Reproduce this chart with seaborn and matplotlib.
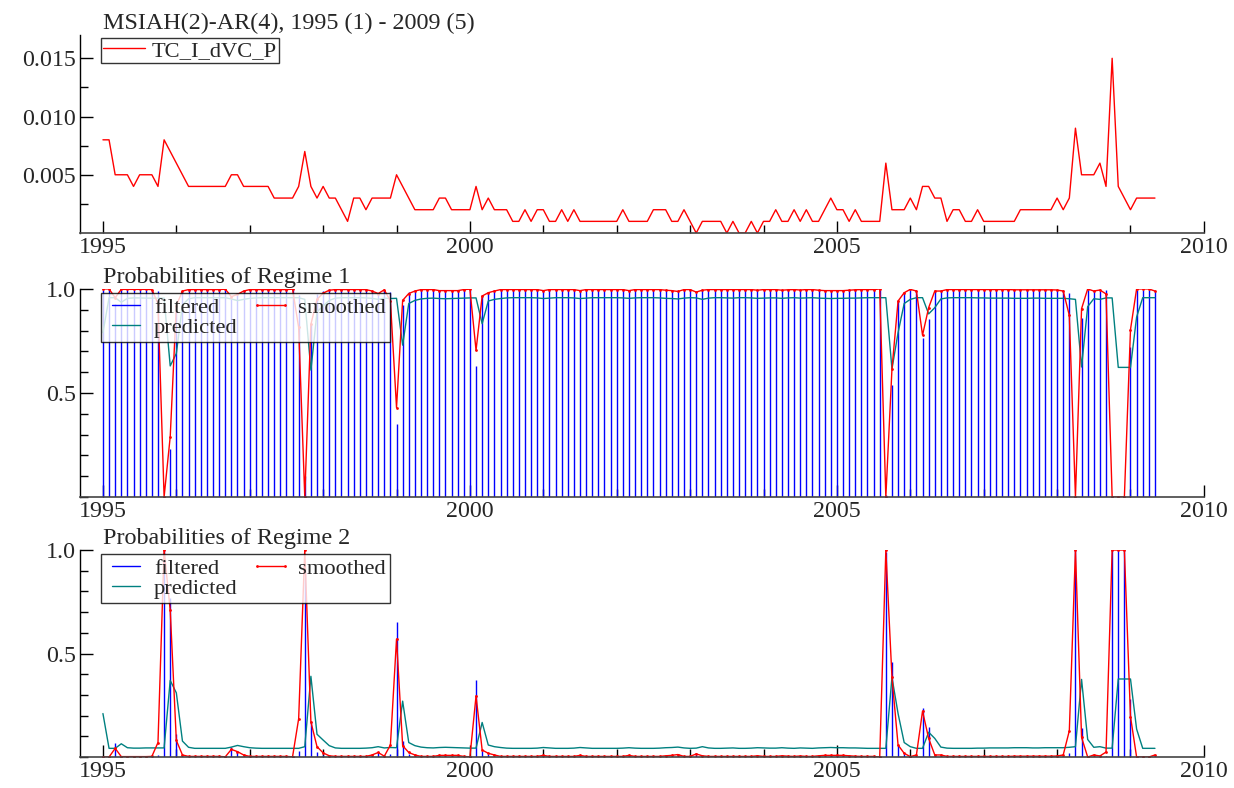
import numpy as np
import pandas as pd
import matplotlib
matplotlib.use("Agg")
import matplotlib.pyplot as plt
from matplotlib.lines import Line2D
from matplotlib.ticker import MultipleLocator, FixedLocator
import seaborn as sns

# ---------------- data ----------------
start_year = 1995
n_obs = 173  # 1995(1) - 2009(5), monthly

tc_thousandths = [8, 8, 5, 5, 5, 4, 5, 5, 5, 4,
                  8, 7, 6, 5, 4, 4, 4, 4, 4, 4,
                  4, 5, 5, 4, 4, 4, 4, 4, 3, 3,
                  3, 3, 4, 7, 4, 3, 4, 3, 3, 2,
                  1, 3, 3, 2, 3, 3, 3, 3, 5, 4,
                  3, 2, 2, 2, 2, 3, 3, 2, 2, 2,
                  2, 4, 2, 3, 2, 2, 2, 1, 1, 2,
                  1, 2, 2, 1, 1, 2, 1, 2, 1, 1,
                  1, 1, 1, 1, 1, 2, 1, 1, 1, 1,
                  2, 2, 2, 1, 1, 2, 1, 0, 1, 1,
                  1, 1, 0, 1, 0, 0, 1, 0, 1, 1,
                  2, 1, 1, 2, 1, 2, 1, 1, 2, 3,
                  2, 2, 1, 2, 1, 1, 1, 1, 6, 2,
                  2, 2, 3, 2, 4, 4, 3, 3, 1, 2,
                  2, 1, 1, 2, 1, 1, 1, 1, 1, 1,
                  2, 2, 2, 2, 2, 2, 3, 2, 3, 9,
                  5, 5, 5, 6, 4, 15, 4, 3, 2, 3,
                  3, 3, 3]

pred_r2 = [.21, .042, .042, .064, .045, .043, .043, .044, .044, .044,
           .044, .37, .31, .077, .047, .042, .042, .042, .042, .042,
           .042, .048, .056, .05, .045, .043, .042, .042, .042, .042,
           .042, .042, .042, .05, .39, .11, .082, .055, .044, .042,
           .042, .042, .042, .043, .045, .05, .044, .046, .045, .27,
           .07, .055, .048, .045, .044, .046, .047, .046, .045, .044,
           .043, .043, .167, .058, .05, .046, .043, .042, .042, .042,
           .042, .043, .046, .044, .042, .042, .042, .043, .046, .044,
           .042, .042, .042, .042, .042, .043, .045, .043, .042, .042,
           .042, .043, .045, .046, .048, .044, .042, .043, .05, .044,
           .042, .042, .043, .044, .042, .042, .043, .045, .044, .043,
           .043, .045, .043, .042, .044, .043, .042, .044, .045, .046,
           .045, .045, .044, .044, .043, .042, .042, .042, .042, .385,
           .21, .07, .05, .042, .042, .12, .09, .048, .043, .042,
           .042, .042, .042, .043, .043, .044, .044, .044, .044, .045,
           .045, .045, .044, .044, .045, .045, .045, .045, .047, .05,
           .375, .085, .047, .05, .043, .043, .377, .377, .377, .135,
           .042, .042, .042]

filt_r2 = [.003, .002, .07, .005, .003, .003, .003, .003, .004, .01,
           1.0, .77, .11, .01, .003, .003, .003, .003, .003, .003,
           .003, .05, .03, .008, .003, .003, .003, .003, .003, .003,
           .003, .003, .03, .9, .17, .026, .01, .004, .004, .004,
           .004, .004, .004, .004, .012, .026, .004, .013, .65, .077,
           .015, .012, .004, .004, .004, .012, .012, .012, .008, .004,
           .003, .37, .03, .015, .006, .003, .003, .003, .003, .003,
           .003, .003, .01, .004, .003, .003, .003, .003, .008, .003,
           .003, .003, .003, .003, .003, .003, .008, .003, .003, .003,
           .003, .003, .005, .008, .01, .003, .003, .02, .005, .003,
           .003, .003, .003, .003, .003, .003, .003, .006, .003, .003,
           .003, .006, .004, .003, .005, .003, .003, .006, .008, .01,
           .008, .01, .006, .004, .003, .003, .003, .003, .99, .46,
           .058, .015, .005, .008, .238, .143, .012, .012, .003, .003,
           .003, .003, .003, .003, .003, .003, .003, .003, .003, .004,
           .004, .004, .004, .004, .004, .004, .005, .006, .018, 1.0,
           .14, .005, .004, .01, .004, 1.0, 1.0, 1.0, .28, .003,
           .003, .003, .01]

smooth_r2 = [0, 0, .042, .002, .002, .002, .002, .002, .003, .07,
             1.0, .71, .08, .01, .003, .003, .003, .003, .003, .003,
             .001, .037, .026, .01, .003, .003, .003, .003, .003, .003,
             .003, .001, .185, 1.0, .17, .05, .02, .006, .003, .003,
             .003, .003, .003, .003, .01, .022, .004, .058, .57, .055,
             .022, .01, .003, .003, .003, .008, .008, .008, .008, .003,
             .001, .295, .034, .018, .01, .003, .003, .003, .003, .003,
             .003, .003, .008, .003, .003, .003, .003, .003, .008, .003,
             .003, .003, .003, .003, .003, .003, .008, .003, .003, .003,
             .003, .003, .006, .008, .012, .003, .003, .015, .006, .003,
             .003, .003, .003, .003, .003, .003, .003, .006, .003, .003,
             .003, .006, .004, .003, .005, .003, .003, .006, .008, .008,
             .008, .008, .006, .004, .003, .003, .003, 0, 1.0, .385,
             .058, .018, .002, .01, .222, .09, .01, .01, .003, .003,
             .003, .003, .003, .003, .003, .003, .003, .003, .003, .004,
             .004, .004, .004, .004, .004, .004, .005, .01, .127, 1.0,
             .095, 0, .01, .005, .024, 1.0, 1.0, 1.0, .195, 0,
             0, 0, .01]

x_major_ticks = [1995, 2000, 2005, 2010]
title_top = "MSIAH(2)-AR(4), 1995 (1) - 2009 (5)"
title_r1 = "Probabilities of Regime 1"
title_r2 = "Probabilities of Regime 2"
series_name = "TC_I_dVC_P"

# ---------------- frame ----------------
t = start_year + np.arange(n_obs) / 12.0
df = pd.DataFrame({
    "t": t,
    "tc": np.array(tc_thousandths) * 0.001,
    "p2": pred_r2, "f2": filt_r2, "s2": smooth_r2,
})
df["p1"] = 1 - df["p2"]
df["f1"] = 1 - df["f2"]
df["s1"] = 1 - df["s2"]

sns.set_style("ticks")
plt.rcParams["font.family"] = ["Liberation Serif", "DejaVu Serif"]

RED = "#ff0000"
BLUE = "#0000ff"
TEAL = "#008080"

fig = plt.figure(figsize=(12.34, 7.88), dpi=100)
ax1 = fig.add_axes([0.0648, 0.7043, 0.9108, 0.2513])
ax2 = fig.add_axes([0.0648, 0.3693, 0.9108, 0.2640])
ax3 = fig.add_axes([0.0648, 0.0393, 0.9108, 0.2627])

XL = (1994.687, 2010.0)
TICK_FS = 17.3
LEG_FS = 16.2


def style_axis(ax):
    ax.set_xlim(*XL)
    for s in ("top", "right"):
        ax.spines[s].set_visible(False)
    ax.spines["left"].set_color("black")
    ax.spines["bottom"].set_color("#444444")
    ax.spines["left"].set_linewidth(1.0)
    ax.spines["bottom"].set_linewidth(1.2)
    ax.xaxis.set_major_locator(FixedLocator(x_major_ticks))
    ax.xaxis.set_minor_locator(MultipleLocator(1))
    ax.set_xticklabels([str(v) for v in x_major_ticks])
    ax.tick_params(axis="both", which="major", direction="in", length=9,
                   width=1, labelsize=TICK_FS, color="black")
    ax.tick_params(axis="both", which="minor", direction="in", length=6,
                   width=1, color="black")
    ax.tick_params(axis="x", which="major", pad=3)
    ax.tick_params(axis="y", which="major", pad=3)
    ax.set_xlabel("")
    ax.set_ylabel("")


def add_title(ax, text):
    ax.annotate(text, xy=(1995, 1.0), xycoords=("data", "axes fraction"),
                xytext=(0, 4), textcoords="offset points",
                ha="left", va="baseline", fontsize=17.4)


def clear_frame(leg):
    fr = leg.get_frame()
    fr.set_facecolor((1, 1, 1, 0))
    fr.set_edgecolor("black")
    fr.set_linewidth(1.0)


# ---- panel 1 ----
sns.lineplot(data=df, x="t", y="tc", ax=ax1, color=RED, linewidth=1.0)
style_axis(ax1)
ax1.set_ylim(0, 0.017)
ax1.yaxis.set_major_locator(FixedLocator([0.005, 0.010, 0.015]))
ax1.yaxis.set_minor_locator(FixedLocator([0.0025, 0.0075, 0.0125]))
ax1.set_yticklabels(["0.005", "0.010", "0.015"])
add_title(ax1, title_top)
leg1 = ax1.legend(handles=[Line2D([], [], color=RED, lw=1.0)], labels=[series_name],
                  loc="upper left", bbox_to_anchor=(0.0187, 0.985), borderaxespad=0,
                  fontsize=LEG_FS, handlelength=1.85, handletextpad=0.3, borderpad=0.1,
                  fancybox=False, frameon=True)
clear_frame(leg1)


def prob_panel(ax, f, s, p, title):
    ax.vlines(df["t"], 0, df[f], colors=BLUE, linewidth=1.0)
    sns.lineplot(data=df, x="t", y=p, ax=ax, color=TEAL, linewidth=1.0)
    sns.lineplot(data=df, x="t", y=s, ax=ax, color=RED, linewidth=1.0,
                 marker="o", markersize=2, markeredgewidth=0)
    style_axis(ax)
    ax.set_ylim(0, 1.0)
    ax.yaxis.set_major_locator(FixedLocator([0.5, 1.0]))
    ax.yaxis.set_minor_locator(MultipleLocator(0.1))
    ax.set_yticklabels(["0.5", "1.0"])
    add_title(ax, title)
    h_f = Line2D([], [], color=BLUE, lw=1.0)
    h_p = Line2D([], [], color=TEAL, lw=1.0)
    h_s = Line2D([], [], color=RED, lw=1.0, marker="o", markersize=2,
                 markeredgewidth=0)
    leg = ax.legend(handles=[h_f, h_p, h_s], labels=["filtered", "predicted", "smoothed"],
                    ncol=2, loc="upper left", bbox_to_anchor=(0.0187, 0.981),
                    borderaxespad=0, fontsize=LEG_FS, handlelength=1.85,
                    handletextpad=0.3, columnspacing=0.55, labelspacing=-0.05,
                    borderpad=0.2, fancybox=False, frameon=True, numpoints=2)
    clear_frame(leg)


prob_panel(ax2, "f1", "s1", "p1", title_r1)
prob_panel(ax3, "f2", "s2", "p2", title_r2)

fig.savefig("out.png", dpi=100)
